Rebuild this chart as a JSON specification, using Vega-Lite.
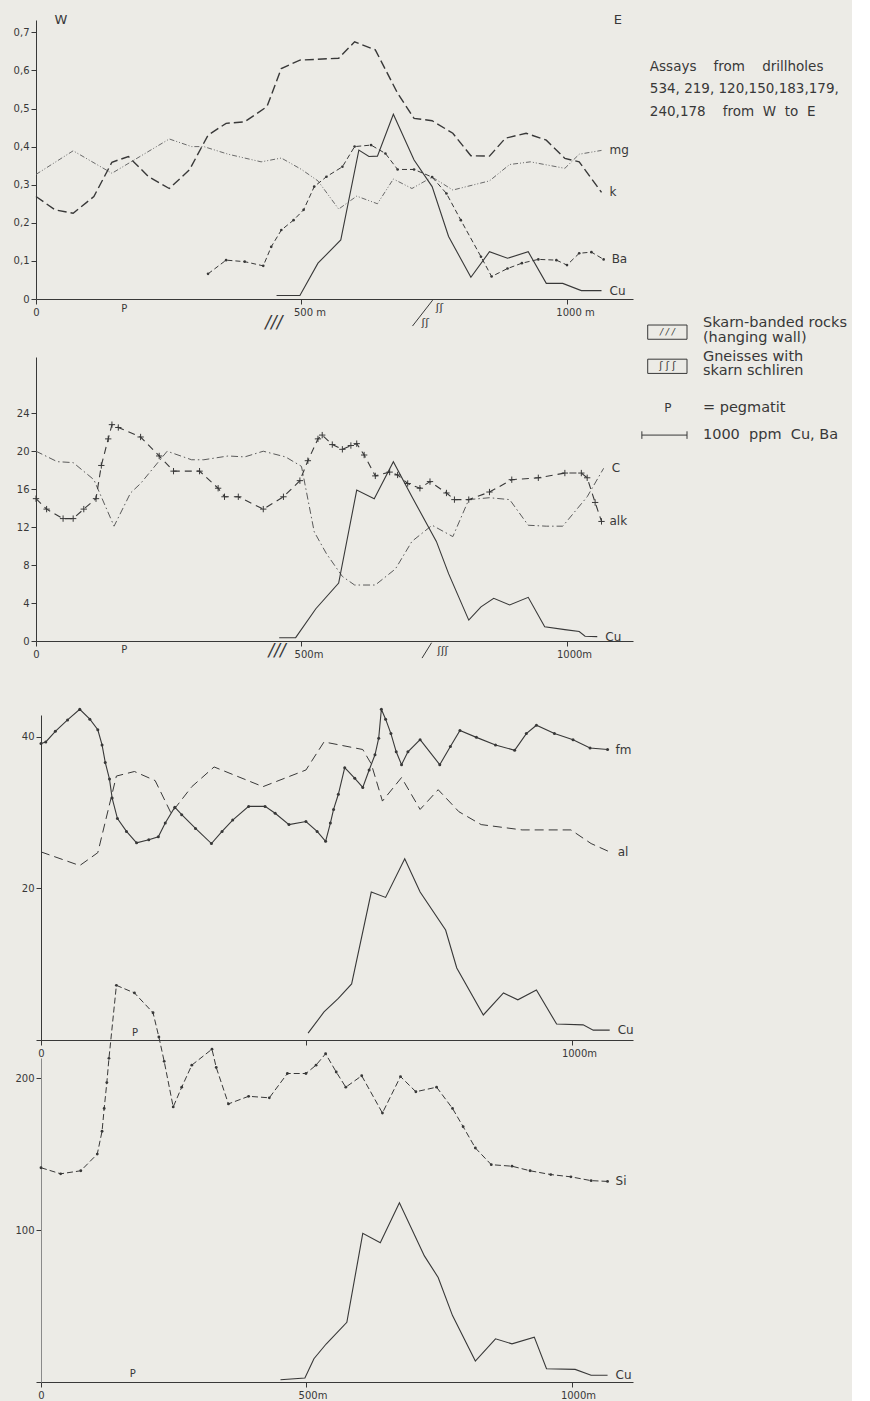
{
"$schema": "https://vega.github.io/schema/vega-lite/v6.json",
"background": "#ecebe6",
"padding": {"left": 13, "top": 14, "right": 5, "bottom": 5},
"spacing": 0,
"bounds": "flush",
"config": {
  "font": "DejaVu Sans",
  "view": {"stroke": null},
  "axis": {"domainColor": "#383838", "tickColor": "#383838", "labelColor": "#383838", "labelFont": "DejaVu Sans", "labelFontSize": 10, "grid": false, "tickSize": 5, "domainWidth": 1, "tickWidth": 1, "labelPadding": 2, "labelOverlap": false},
  "text": {"color": "#383838", "font": "DejaVu Sans"}
},
"datasets": {
"p1": [
{"s":"mg","m":0,"v":0.327},{"s":"mg","m":70,"v":0.389},{"s":"mg","m":143,"v":0.33},{"s":"mg","m":251,"v":0.42},{"s":"mg","m":293,"v":0.40},{"s":"mg","m":316,"v":0.40},{"s":"mg","m":362,"v":0.38},{"s":"mg","m":424,"v":0.36},{"s":"mg","m":462,"v":0.37},{"s":"mg","m":500,"v":0.34},{"s":"mg","m":531,"v":0.31},{"s":"mg","m":570,"v":0.236},{"s":"mg","m":604,"v":0.27},{"s":"mg","m":643,"v":0.25},{"s":"mg","m":673,"v":0.315},{"s":"mg","m":708,"v":0.29},{"s":"mg","m":746,"v":0.32},{"s":"mg","m":785,"v":0.286},{"s":"mg","m":854,"v":0.31},{"s":"mg","m":892,"v":0.353},{"s":"mg","m":931,"v":0.36},{"s":"mg","m":996,"v":0.343},{"s":"mg","m":1023,"v":0.38},{"s":"mg","m":1065,"v":0.39},
{"s":"k","m":0,"v":0.269},{"s":"k","m":36,"v":0.234},{"s":"k","m":70,"v":0.225},{"s":"k","m":109,"v":0.269},{"s":"k","m":143,"v":0.359},{"s":"k","m":174,"v":0.374},{"s":"k","m":212,"v":0.321},{"s":"k","m":251,"v":0.29},{"s":"k","m":289,"v":0.339},{"s":"k","m":324,"v":0.43},{"s":"k","m":358,"v":0.461},{"s":"k","m":393,"v":0.465},{"s":"k","m":435,"v":0.505},{"s":"k","m":462,"v":0.605},{"s":"k","m":497,"v":0.627},{"s":"k","m":570,"v":0.632},{"s":"k","m":600,"v":0.675},{"s":"k","m":639,"v":0.654},{"s":"k","m":681,"v":0.54},{"s":"k","m":712,"v":0.474},{"s":"k","m":746,"v":0.468},{"s":"k","m":785,"v":0.435},{"s":"k","m":819,"v":0.376},{"s":"k","m":854,"v":0.375},{"s":"k","m":884,"v":0.422},{"s":"k","m":923,"v":0.435},{"s":"k","m":961,"v":0.417},{"s":"k","m":996,"v":0.369},{"s":"k","m":1023,"v":0.36},{"s":"k","m":1065,"v":0.28},
{"s":"Ba","m":324,"v":0.066},{"s":"Ba","m":358,"v":0.102},{"s":"Ba","m":393,"v":0.098},{"s":"Ba","m":428,"v":0.087},{"s":"Ba","m":443,"v":0.137},{"s":"Ba","m":462,"v":0.181},{"s":"Ba","m":485,"v":0.207},{"s":"Ba","m":504,"v":0.234},{"s":"Ba","m":524,"v":0.295},{"s":"Ba","m":547,"v":0.321},{"s":"Ba","m":577,"v":0.347},{"s":"Ba","m":600,"v":0.40},{"s":"Ba","m":631,"v":0.404},{"s":"Ba","m":658,"v":0.382},{"s":"Ba","m":681,"v":0.34},{"s":"Ba","m":712,"v":0.34},{"s":"Ba","m":746,"v":0.32},{"s":"Ba","m":773,"v":0.277},{"s":"Ba","m":800,"v":0.207},{"s":"Ba","m":838,"v":0.111},{"s":"Ba","m":858,"v":0.059},{"s":"Ba","m":888,"v":0.08},{"s":"Ba","m":915,"v":0.094},{"s":"Ba","m":946,"v":0.104},{"s":"Ba","m":980,"v":0.102},{"s":"Ba","m":1000,"v":0.089},{"s":"Ba","m":1023,"v":0.12},{"s":"Ba","m":1046,"v":0.123},{"s":"Ba","m":1069,"v":0.104},
{"s":"Cu","m":453,"v":0.009},{"s":"Cu","m":497,"v":0.009},{"s":"Cu","m":531,"v":0.094},{"s":"Cu","m":574,"v":0.155},{"s":"Cu","m":608,"v":0.391},{"s":"Cu","m":627,"v":0.374},{"s":"Cu","m":643,"v":0.375},{"s":"Cu","m":673,"v":0.485},{"s":"Cu","m":712,"v":0.365},{"s":"Cu","m":746,"v":0.295},{"s":"Cu","m":777,"v":0.164},{"s":"Cu","m":819,"v":0.057},{"s":"Cu","m":854,"v":0.124},{"s":"Cu","m":888,"v":0.107},{"s":"Cu","m":927,"v":0.124},{"s":"Cu","m":961,"v":0.041},{"s":"Cu","m":992,"v":0.041},{"s":"Cu","m":1027,"v":0.022},{"s":"Cu","m":1065,"v":0.022}
],
"p2": [
{"s":"C","m":0,"v":20.0},{"s":"C","m":40,"v":18.9},{"s":"C","m":70,"v":18.8},{"s":"C","m":109,"v":17.0},{"s":"C","m":147,"v":12.1},{"s":"C","m":178,"v":15.6},{"s":"C","m":197,"v":16.6},{"s":"C","m":247,"v":20.0},{"s":"C","m":293,"v":19.1},{"s":"C","m":316,"v":19.1},{"s":"C","m":362,"v":19.5},{"s":"C","m":393,"v":19.4},{"s":"C","m":428,"v":20.0},{"s":"C","m":470,"v":19.4},{"s":"C","m":500,"v":18.4},{"s":"C","m":524,"v":11.5},{"s":"C","m":547,"v":9.2},{"s":"C","m":577,"v":6.8},{"s":"C","m":600,"v":5.9},{"s":"C","m":639,"v":5.9},{"s":"C","m":677,"v":7.6},{"s":"C","m":708,"v":10.5},{"s":"C","m":746,"v":12.2},{"s":"C","m":785,"v":11.0},{"s":"C","m":815,"v":14.9},{"s":"C","m":854,"v":15.1},{"s":"C","m":892,"v":14.9},{"s":"C","m":927,"v":12.2},{"s":"C","m":961,"v":12.1},{"s":"C","m":992,"v":12.1},{"s":"C","m":1038,"v":15.2},{"s":"C","m":1069,"v":18.2},
{"s":"alk","m":0,"v":15.0},{"s":"alk","m":20,"v":13.9},{"s":"alk","m":51,"v":12.9},{"s":"alk","m":70,"v":12.9},{"s":"alk","m":90,"v":13.9},{"s":"alk","m":113,"v":15.0},{"s":"alk","m":123,"v":18.5},{"s":"alk","m":136,"v":21.3},{"s":"alk","m":143,"v":22.8},{"s":"alk","m":155,"v":22.5},{"s":"alk","m":197,"v":21.5},{"s":"alk","m":232,"v":19.5},{"s":"alk","m":259,"v":17.9},{"s":"alk","m":308,"v":17.9},{"s":"alk","m":343,"v":16.1},{"s":"alk","m":355,"v":15.2},{"s":"alk","m":381,"v":15.2},{"s":"alk","m":428,"v":13.9},{"s":"alk","m":466,"v":15.2},{"s":"alk","m":497,"v":16.9},{"s":"alk","m":512,"v":19.0},{"s":"alk","m":531,"v":21.3},{"s":"alk","m":539,"v":21.7},{"s":"alk","m":558,"v":20.7},{"s":"alk","m":577,"v":20.2},{"s":"alk","m":593,"v":20.6},{"s":"alk","m":604,"v":20.8},{"s":"alk","m":618,"v":19.6},{"s":"alk","m":639,"v":17.4},{"s":"alk","m":666,"v":17.8},{"s":"alk","m":681,"v":17.5},{"s":"alk","m":700,"v":16.6},{"s":"alk","m":723,"v":16.1},{"s":"alk","m":742,"v":16.8},{"s":"alk","m":773,"v":15.6},{"s":"alk","m":788,"v":14.9},{"s":"alk","m":815,"v":14.9},{"s":"alk","m":854,"v":15.7},{"s":"alk","m":896,"v":17.0},{"s":"alk","m":946,"v":17.2},{"s":"alk","m":996,"v":17.7},{"s":"alk","m":1027,"v":17.7},{"s":"alk","m":1038,"v":17.2},{"s":"alk","m":1053,"v":14.6},{"s":"alk","m":1065,"v":12.6},
{"s":"Cu","m":458,"v":0.35},{"s":"Cu","m":489,"v":0.35},{"s":"Cu","m":527,"v":3.4},{"s":"Cu","m":570,"v":6.1},{"s":"Cu","m":604,"v":15.9},{"s":"Cu","m":637,"v":15.0},{"s":"Cu","m":673,"v":18.9},{"s":"Cu","m":708,"v":15.2},{"s":"Cu","m":754,"v":10.5},{"s":"Cu","m":777,"v":7.1},{"s":"Cu","m":815,"v":2.2},{"s":"Cu","m":838,"v":3.6},{"s":"Cu","m":862,"v":4.5},{"s":"Cu","m":892,"v":3.8},{"s":"Cu","m":927,"v":4.6},{"s":"Cu","m":958,"v":1.5},{"s":"Cu","m":996,"v":1.2},{"s":"Cu","m":1023,"v":1.0},{"s":"Cu","m":1034,"v":0.5},{"s":"Cu","m":1057,"v":0.46}
],
"p3": [
{"s":"fm","m":0,"v":39.1},{"s":"fm","m":9,"v":39.3},{"s":"fm","m":27,"v":40.7},{"s":"fm","m":50,"v":42.2},{"s":"fm","m":73,"v":43.6},{"s":"fm","m":92,"v":42.3},{"s":"fm","m":107,"v":40.9},{"s":"fm","m":115,"v":38.9},{"s":"fm","m":121,"v":36.6},{"s":"fm","m":129,"v":34.4},{"s":"fm","m":134,"v":31.9},{"s":"fm","m":144,"v":29.2},{"s":"fm","m":161,"v":27.5},{"s":"fm","m":180,"v":26.0},{"s":"fm","m":203,"v":26.4},{"s":"fm","m":221,"v":26.8},{"s":"fm","m":234,"v":28.6},{"s":"fm","m":252,"v":30.7},{"s":"fm","m":265,"v":29.7},{"s":"fm","m":291,"v":27.9},{"s":"fm","m":321,"v":25.9},{"s":"fm","m":341,"v":27.5},{"s":"fm","m":361,"v":29.0},{"s":"fm","m":391,"v":30.8},{"s":"fm","m":422,"v":30.8},{"s":"fm","m":441,"v":29.9},{"s":"fm","m":467,"v":28.4},{"s":"fm","m":499,"v":28.8},{"s":"fm","m":520,"v":27.5},{"s":"fm","m":536,"v":26.2},{"s":"fm","m":545,"v":28.6},{"s":"fm","m":551,"v":30.4},{"s":"fm","m":560,"v":32.4},{"s":"fm","m":572,"v":35.9},{"s":"fm","m":591,"v":34.5},{"s":"fm","m":606,"v":33.3},{"s":"fm","m":618,"v":35.6},{"s":"fm","m":629,"v":37.6},{"s":"fm","m":636,"v":39.8},{"s":"fm","m":641,"v":43.6},{"s":"fm","m":649,"v":42.3},{"s":"fm","m":659,"v":40.4},{"s":"fm","m":669,"v":38.0},{"s":"fm","m":679,"v":36.3},{"s":"fm","m":691,"v":38.0},{"s":"fm","m":714,"v":39.6},{"s":"fm","m":751,"v":36.3},{"s":"fm","m":771,"v":38.7},{"s":"fm","m":789,"v":40.8},{"s":"fm","m":820,"v":39.9},{"s":"fm","m":856,"v":38.9},{"s":"fm","m":892,"v":38.2},{"s":"fm","m":914,"v":40.4},{"s":"fm","m":933,"v":41.5},{"s":"fm","m":967,"v":40.4},{"s":"fm","m":1002,"v":39.6},{"s":"fm","m":1034,"v":38.5},{"s":"fm","m":1067,"v":38.3},
{"s":"al","m":0,"v":24.8},{"s":"al","m":73,"v":23.0},{"s":"al","m":107,"v":24.7},{"s":"al","m":142,"v":34.8},{"s":"al","m":176,"v":35.4},{"s":"al","m":215,"v":34.2},{"s":"al","m":245,"v":29.9},{"s":"al","m":284,"v":33.4},{"s":"al","m":326,"v":36.0},{"s":"al","m":418,"v":33.4},{"s":"al","m":499,"v":35.6},{"s":"al","m":533,"v":39.3},{"s":"al","m":606,"v":38.3},{"s":"al","m":622,"v":36.4},{"s":"al","m":643,"v":31.5},{"s":"al","m":679,"v":34.6},{"s":"al","m":714,"v":30.4},{"s":"al","m":748,"v":33.0},{"s":"al","m":787,"v":30.1},{"s":"al","m":829,"v":28.4},{"s":"al","m":906,"v":27.7},{"s":"al","m":998,"v":27.7},{"s":"al","m":1036,"v":25.9},{"s":"al","m":1071,"v":24.8},
{"s":"Cu","m":503,"v":0.9},{"s":"Cu","m":533,"v":3.7},{"s":"Cu","m":560,"v":5.5},{"s":"Cu","m":585,"v":7.4},{"s":"Cu","m":622,"v":19.5},{"s":"Cu","m":649,"v":18.8},{"s":"Cu","m":685,"v":23.9},{"s":"Cu","m":714,"v":19.5},{"s":"Cu","m":762,"v":14.5},{"s":"Cu","m":783,"v":9.5},{"s":"Cu","m":833,"v":3.3},{"s":"Cu","m":871,"v":6.2},{"s":"Cu","m":898,"v":5.3},{"s":"Cu","m":933,"v":6.6},{"s":"Cu","m":971,"v":2.1},{"s":"Cu","m":1021,"v":2.0},{"s":"Cu","m":1040,"v":1.3},{"s":"Cu","m":1071,"v":1.3}
],
"p4": [
{"s":"Si","m":0,"v":141},{"s":"Si","m":37,"v":137},{"s":"Si","m":75,"v":139},{"s":"Si","m":106,"v":150},{"s":"Si","m":115,"v":165},{"s":"Si","m":119,"v":180},{"s":"Si","m":124,"v":197},{"s":"Si","m":128,"v":213},{"s":"Si","m":142,"v":261},{"s":"Si","m":176,"v":256},{"s":"Si","m":211,"v":243},{"s":"Si","m":222,"v":227},{"s":"Si","m":232,"v":211},{"s":"Si","m":249,"v":181},{"s":"Si","m":265,"v":194},{"s":"Si","m":284,"v":208.5},{"s":"Si","m":322,"v":219},{"s":"Si","m":330,"v":207},{"s":"Si","m":353,"v":183},{"s":"Si","m":391,"v":188},{"s":"Si","m":430,"v":187},{"s":"Si","m":464,"v":203},{"s":"Si","m":499,"v":203},{"s":"Si","m":518,"v":208.5},{"s":"Si","m":536,"v":216},{"s":"Si","m":556,"v":204},{"s":"Si","m":574,"v":194},{"s":"Si","m":604,"v":201.5},{"s":"Si","m":643,"v":177},{"s":"Si","m":677,"v":201},{"s":"Si","m":706,"v":191},{"s":"Si","m":745,"v":194},{"s":"Si","m":775,"v":180},{"s":"Si","m":795,"v":168},{"s":"Si","m":818,"v":154},{"s":"Si","m":848,"v":143},{"s":"Si","m":887,"v":142},{"s":"Si","m":921,"v":139},{"s":"Si","m":960,"v":136.5},{"s":"Si","m":998,"v":135},{"s":"Si","m":1036,"v":132.5},{"s":"Si","m":1067,"v":132},
{"s":"Cu","m":451,"v":1.5},{"s":"Cu","m":497,"v":2.6},{"s":"Cu","m":514,"v":15.3},{"s":"Cu","m":537,"v":25},{"s":"Cu","m":576,"v":39.3},{"s":"Cu","m":606,"v":97.8},{"s":"Cu","m":639,"v":91.7},{"s":"Cu","m":675,"v":118},{"s":"Cu","m":722,"v":83},{"s":"Cu","m":748,"v":68.8},{"s":"Cu","m":775,"v":43.7},{"s":"Cu","m":818,"v":13.8},{"s":"Cu","m":856,"v":28.4},{"s":"Cu","m":887,"v":25.1},{"s":"Cu","m":929,"v":29.5},{"s":"Cu","m":952,"v":8.7},{"s":"Cu","m":1006,"v":8.3},{"s":"Cu","m":1036,"v":4.4},{"s":"Cu","m":1067,"v":4.4}
]
},
"vconcat": [
{
  "width": 597, "height": 279,
  "resolve": {"axis": {"y": "independent"}},
  "layer": [
    {"data": {"name": "p1"},
     "encoding": {
      "x": {"field": "m", "type": "quantitative", "scale": {"domain": [0, 1124.3], "nice": false, "zero": false},
          "axis": {"title": null, "values": [0, 500, 1000], "labelFlush": false, "labelPadding": 3, "labelOverlap": false,
                   "labelExpr": "datum.value == 0 ? '0' : datum.value == 500 ? '500 m' : '1000 m'",
                   "labelOffset": {"condition": {"test": "datum.value == 0", "value": 0}, "value": 8}}},
      "y": {"field": "v", "type": "quantitative", "scale": {"domain": [0, 0.7323], "nice": false},
          "axis": {"title": null, "values": [0, 0.1, 0.2, 0.3, 0.4, 0.5, 0.6, 0.7], "labelOverlap": false,
                   "labelExpr": "datum.value == 0 ? '0' : replace(format(datum.value, '.1f'), '.', ',')"}}
     },
     "layer": [
      {"transform": [{"filter": "datum.s === 'mg'"}], "mark": {"type": "line", "color": "#6a6a6a", "strokeWidth": 1, "strokeDash": [5, 2, 1, 2, 1, 2]}},
      {"transform": [{"filter": "datum.s === 'k'"}], "mark": {"type": "line", "color": "#383838", "strokeWidth": 1.4, "strokeDash": [9, 4]}},
      {"transform": [{"filter": "datum.s === 'Ba'"}], "mark": {"type": "line", "color": "#383838", "strokeWidth": 1, "strokeDash": [5, 3], "point": {"filled": true, "size": 7, "color": "#383838"}}},
      {"transform": [{"filter": "datum.s === 'Cu'"}], "mark": {"type": "line", "color": "#383838", "strokeWidth": 1.1}},
      {"transform": [{"joinaggregate": [{"op": "max", "field": "m", "as": "mx"}], "groupby": ["s"]}, {"filter": "datum.m === datum.mx"}],
       "mark": {"type": "text", "align": "left", "baseline": "middle", "dx": 8, "fontSize": 12, "color": "#383838"},
       "encoding": {"text": {"field": "s"}}}
     ]},
    {"data": {"values": [{"t": "W"}]}, "mark": {"type": "text", "fontSize": 13, "align": "center", "baseline": "middle", "color": "#383838"},
     "encoding": {"text": {"field": "t"}, "x": {"datum": 47}, "y": {"datum": 0.7323, "axis": null}}},
    {"data": {"values": [{"t": "E"}]}, "mark": {"type": "text", "fontSize": 13, "align": "center", "baseline": "middle", "color": "#383838"},
     "encoding": {"text": {"field": "t"}, "x": {"datum": 1096}, "y": {"datum": 0.7323, "axis": null}}},
    {"data": {"values": [{"t": "Assays"}]}, "mark": {"type": "text", "text": ["Assays\u00a0\u00a0\u00a0 from\u00a0\u00a0\u00a0 drillholes", "534, 219, 120,150,183,179,", "240,178\u00a0\u00a0\u00a0 from\u00a0 W\u00a0 to\u00a0 E"], "fontSize": 13.5, "lineHeight": 22.5, "align": "left", "baseline": "top", "color": "#383838"},
     "encoding": {"x": {"datum": 1156}, "y": {"datum": 0.628, "axis": null}}},
    {"data": {"values": [{"t": "P"}]}, "mark": {"type": "text", "fontSize": 10, "align": "center", "baseline": "middle", "color": "#383838"},
     "encoding": {"text": {"field": "t"}, "x": {"datum": 166}, "y": {"datum": -0.026, "axis": null}}},
    {"data": {"values": [{"t": "///"}]}, "mark": {"type": "text", "fontSize": 17, "fontStyle": "italic", "align": "center", "baseline": "middle", "color": "#383838"},
     "encoding": {"text": {"field": "t"}, "x": {"datum": 448}, "y": {"datum": -0.063, "axis": null}}},
    {"data": {"values": [{"t": "slash"}]}, "mark": {"type": "rule", "color": "#383838", "strokeWidth": 1},
     "encoding": {"x": {"datum": 747}, "y": {"datum": -0.003, "axis": null}, "x2": {"datum": 709}, "y2": {"datum": -0.071}}},
    {"data": {"values": [{"t": "ʃʃ"}]}, "mark": {"type": "text", "fontSize": 11, "align": "center", "baseline": "middle", "color": "#383838"},
     "encoding": {"text": {"field": "t"}, "x": {"datum": 760}, "y": {"datum": -0.024, "axis": null}}},
    {"data": {"values": [{"t": "ʃʃ"}]}, "mark": {"type": "text", "fontSize": 11, "align": "center", "baseline": "middle", "color": "#383838"},
     "encoding": {"text": {"field": "t"}, "x": {"datum": 733}, "y": {"datum": -0.063, "axis": null}}}
  ]
},
{"width": 597, "height": 58, "data": {"values": []}, "mark": "point", "encoding": {}},
{
  "width": 597, "height": 284,
  "layer": [
    {"data": {"name": "p2"},
     "encoding": {
      "x": {"field": "m", "type": "quantitative", "scale": {"domain": [0, 1124.3], "nice": false, "zero": false},
          "axis": {"title": null, "values": [0, 500, 1000], "labelFlush": false, "labelPadding": 3, "labelOverlap": false,
                   "labelExpr": "datum.value == 0 ? '0' : datum.value == 500 ? '500m' : '1000m'",
                   "labelOffset": {"condition": {"test": "datum.value == 0", "value": 0}, "value": 7}}},
      "y": {"field": "v", "type": "quantitative", "scale": {"domain": [0, 29.93], "nice": false},
          "axis": {"title": null, "values": [0, 4, 8, 12, 16, 20, 24], "labelOverlap": false}}
     },
     "layer": [
      {"transform": [{"filter": "datum.s === 'C'"}], "mark": {"type": "line", "color": "#5a5a5a", "strokeWidth": 1, "strokeDash": [7, 3, 1.5, 3]}},
      {"transform": [{"filter": "datum.s === 'alk'"}], "mark": {"type": "line", "color": "#383838", "strokeWidth": 1.1, "strokeDash": [7, 5]}},
      {"transform": [{"filter": "datum.s === 'alk'"}], "mark": {"type": "point", "shape": "M-1,0H1M0,-1V1", "filled": false, "size": 40, "strokeWidth": 1, "color": "#383838", "opacity": 1}},
      {"transform": [{"filter": "datum.s === 'Cu'"}], "mark": {"type": "line", "color": "#383838", "strokeWidth": 1.1}},
      {"transform": [{"joinaggregate": [{"op": "max", "field": "m", "as": "mx"}], "groupby": ["s"]}, {"filter": "datum.m === datum.mx"}],
       "mark": {"type": "text", "align": "left", "baseline": "middle", "dx": 8, "fontSize": 12, "color": "#383838"},
       "encoding": {"text": {"field": "s"}}}
     ]},
    {"data": {"values": [{"t": "P"}]}, "mark": {"type": "text", "fontSize": 10, "align": "center", "baseline": "middle", "color": "#383838"},
     "encoding": {"text": {"field": "t"}, "x": {"datum": 166}, "y": {"datum": -0.9}}},
    {"data": {"values": [{"t": "///"}]}, "mark": {"type": "text", "fontSize": 17, "fontStyle": "italic", "align": "center", "baseline": "middle", "color": "#383838"},
     "encoding": {"text": {"field": "t"}, "x": {"datum": 454}, "y": {"datum": -1.05}}},
    {"data": {"values": [{"t": "slash"}]}, "mark": {"type": "rule", "color": "#383838", "strokeWidth": 1},
     "encoding": {"x": {"datum": 745}, "y": {"datum": -0.18}, "x2": {"datum": 727}, "y2": {"datum": -1.8}}},
    {"data": {"values": [{"t": "ʃʃʃ"}]}, "mark": {"type": "text", "fontSize": 11, "align": "center", "baseline": "middle", "color": "#383838"},
     "encoding": {"text": {"field": "t"}, "x": {"datum": 766}, "y": {"datum": -1.1}}},
    {"data": {"values": [{"t": "box1"}]}, "mark": {"type": "rect", "fillOpacity": 0, "stroke": "#383838", "strokeWidth": 1},
     "encoding": {"x": {"datum": 1152}, "x2": {"datum": 1226}, "y": {"datum": 33.3}, "y2": {"datum": 31.8}}},
    {"data": {"values": [{"t": "/ / /"}]}, "mark": {"type": "text", "fontSize": 9, "fontStyle": "italic", "align": "center", "baseline": "middle", "color": "#383838"},
     "encoding": {"text": {"field": "t"}, "x": {"datum": 1189}, "y": {"datum": 32.55}}},
    {"data": {"values": [{"t": "box2"}]}, "mark": {"type": "rect", "fillOpacity": 0, "stroke": "#383838", "strokeWidth": 1},
     "encoding": {"x": {"datum": 1152}, "x2": {"datum": 1226}, "y": {"datum": 29.7}, "y2": {"datum": 28.2}}},
    {"data": {"values": [{"t": "ʃ ʃ ʃ"}]}, "mark": {"type": "text", "fontSize": 10, "align": "center", "baseline": "middle", "color": "#383838"},
     "encoding": {"text": {"field": "t"}, "x": {"datum": 1189}, "y": {"datum": 28.95}}},
    {"data": {"values": [{"t": "skarn"}]}, "mark": {"type": "text", "text": ["Skarn-banded rocks", "(hanging wall)"], "fontSize": 14.5, "lineHeight": 15, "align": "left", "baseline": "top", "color": "#383838"},
     "encoding": {"x": {"datum": 1256}, "y": {"datum": 34.3}}},
    {"data": {"values": [{"t": "gneiss"}]}, "mark": {"type": "text", "text": ["Gneisses with", "skarn schliren"], "fontSize": 14.5, "lineHeight": 14, "align": "left", "baseline": "top", "color": "#383838"},
     "encoding": {"x": {"datum": 1256}, "y": {"datum": 30.7}}},
    {"data": {"values": [{"t": "P"}]}, "mark": {"type": "text", "fontSize": 12, "align": "center", "baseline": "middle", "color": "#383838"},
     "encoding": {"text": {"field": "t"}, "x": {"datum": 1190}, "y": {"datum": 24.55}}},
    {"data": {"values": [{"t": "= pegmatit"}]}, "mark": {"type": "text", "fontSize": 14.5, "align": "left", "baseline": "middle", "color": "#383838"},
     "encoding": {"text": {"field": "t"}, "x": {"datum": 1256}, "y": {"datum": 24.55}}},
    {"data": {"values": [{"t": "bar"}]}, "mark": {"type": "rule", "color": "#383838", "strokeWidth": 1},
     "encoding": {"x": {"datum": 1141}, "x2": {"datum": 1226}, "y": {"datum": 21.7}}},
    {"data": {"values": [{"t": "barL"}]}, "mark": {"type": "rule", "color": "#383838", "strokeWidth": 1},
     "encoding": {"x": {"datum": 1141}, "y": {"datum": 21.3}, "y2": {"datum": 22.1}}},
    {"data": {"values": [{"t": "barR"}]}, "mark": {"type": "rule", "color": "#383838", "strokeWidth": 1},
     "encoding": {"x": {"datum": 1226}, "y": {"datum": 21.3}, "y2": {"datum": 22.1}}},
    {"data": {"values": [{"t": "1000\u00a0 ppm\u00a0 Cu, Ba"}]}, "mark": {"type": "text", "fontSize": 14.5, "align": "left", "baseline": "middle", "color": "#383838"},
     "encoding": {"text": {"field": "t"}, "x": {"datum": 1256}, "y": {"datum": 21.7}}}
  ]
},
{"width": 597, "height": 74, "data": {"values": []}, "mark": "point", "encoding": {}},
{
  "width": 597, "height": 325,
  "layer": [
    {"data": {"name": "p3"},
     "encoding": {
      "x": {"field": "m", "type": "quantitative", "scale": {"domain": [-9.4, 1114.9], "nice": false, "zero": false},
          "axis": {"title": null, "values": [0, 500, 1000], "labelFlush": false, "labelPadding": 3, "labelOverlap": false,
                   "labelExpr": "datum.value == 0 ? '0' : datum.value == 500 ? '' : '1000m'",
                   "labelOffset": {"condition": {"test": "datum.value == 0", "value": 0}, "value": 7}}},
      "y": {"field": "v", "type": "quantitative", "scale": {"domain": [0, 42.85], "nice": false},
          "axis": {"title": null, "values": [20, 40], "offset": -5, "labelOverlap": false}}
     },
     "layer": [
      {"transform": [{"filter": "datum.s === 'fm'"}], "mark": {"type": "line", "color": "#383838", "strokeWidth": 1.1, "point": {"filled": true, "size": 9, "color": "#383838"}}},
      {"transform": [{"filter": "datum.s === 'al'"}], "mark": {"type": "line", "color": "#383838", "strokeWidth": 1, "strokeDash": [9, 5]}},
      {"transform": [{"filter": "datum.s === 'Cu'"}], "mark": {"type": "line", "color": "#383838", "strokeWidth": 1.1}},
      {"transform": [{"joinaggregate": [{"op": "max", "field": "m", "as": "mx"}], "groupby": ["s"]}, {"filter": "datum.m === datum.mx"}],
       "mark": {"type": "text", "align": "left", "baseline": "middle", "dx": 8, "fontSize": 12, "color": "#383838"},
       "encoding": {"text": {"field": "s"}}}
     ]},
    {"data": {"values": [{"t": "P"}]}, "mark": {"type": "text", "fontSize": 10, "align": "center", "baseline": "middle", "color": "#383838"},
     "encoding": {"text": {"field": "t"}, "x": {"datum": 177}, "y": {"datum": 0.95}}}
  ]
},
{"width": 597, "height": 18, "data": {"values": []}, "mark": "point", "encoding": {}},
{
  "width": 597, "height": 324,
  "layer": [
    {"data": {"name": "p4"},
     "encoding": {
      "x": {"field": "m", "type": "quantitative", "scale": {"domain": [-9.4, 1114.9], "nice": false, "zero": false},
          "axis": {"title": null, "values": [0, 500, 1000], "labelFlush": false, "labelPadding": 3, "labelOverlap": false,
                   "labelExpr": "datum.value == 0 ? '0' : datum.value == 500 ? '500m' : '1000m'",
                   "labelOffset": {"condition": {"test": "datum.value == 0", "value": 0}, "value": 6}}},
      "y": {"field": "v", "type": "quantitative", "scale": {"domain": [0, 213.2], "nice": false},
          "axis": {"title": null, "values": [100, 200], "offset": -5, "domainColor": "#8a8a8a", "labelOverlap": false}}
     },
     "layer": [
      {"transform": [{"filter": "datum.s === 'Si'"}], "mark": {"type": "line", "color": "#383838", "strokeWidth": 1, "strokeDash": [6, 3], "point": {"filled": true, "size": 8, "color": "#383838"}}},
      {"transform": [{"filter": "datum.s === 'Cu'"}], "mark": {"type": "line", "color": "#383838", "strokeWidth": 1.1}},
      {"transform": [{"joinaggregate": [{"op": "max", "field": "m", "as": "mx"}], "groupby": ["s"]}, {"filter": "datum.m === datum.mx"}],
       "mark": {"type": "text", "align": "left", "baseline": "middle", "dx": 8, "fontSize": 12, "color": "#383838"},
       "encoding": {"text": {"field": "s"}}}
     ]},
    {"data": {"values": [{"t": "P"}]}, "mark": {"type": "text", "fontSize": 10, "align": "center", "baseline": "middle", "color": "#383838"},
     "encoding": {"text": {"field": "t"}, "x": {"datum": 173}, "y": {"datum": 5.3}}}
  ]
}
]
}
